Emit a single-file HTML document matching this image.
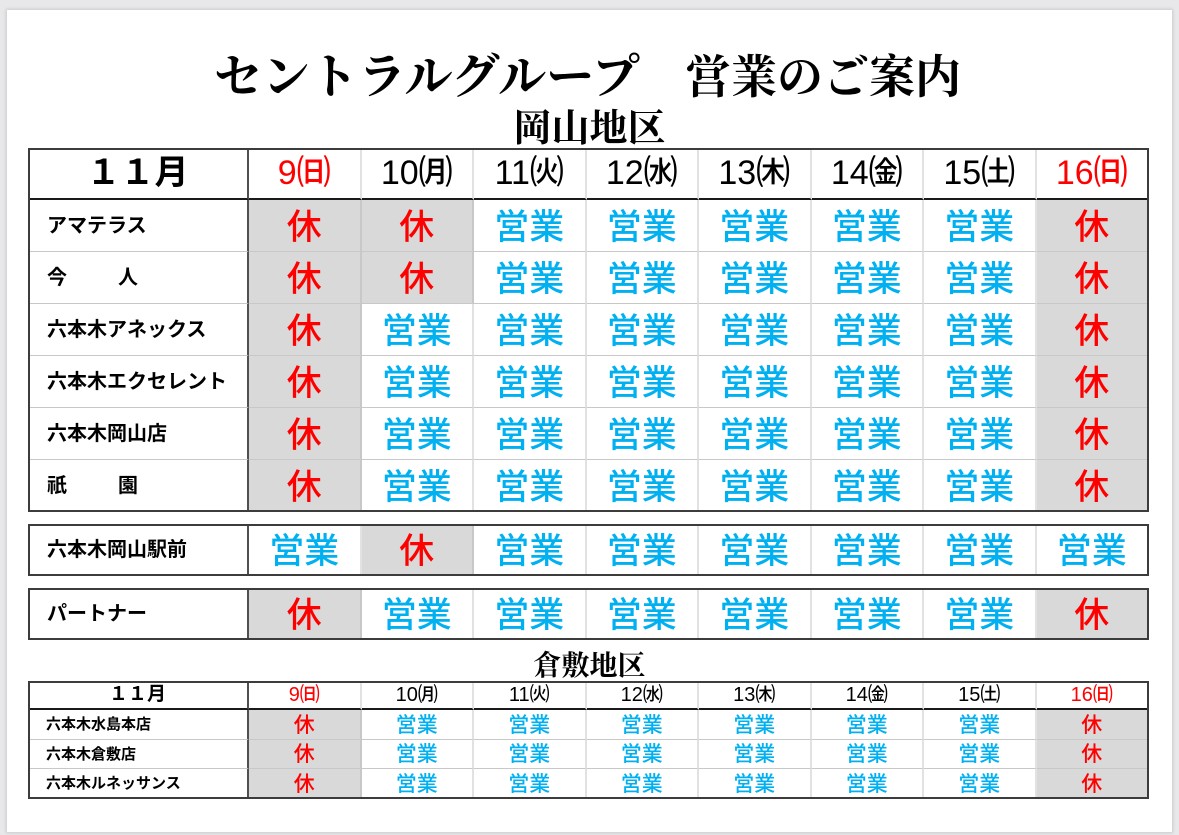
<!DOCTYPE html>
<html><head><meta charset="utf-8">
<style>
*{margin:0;padding:0;box-sizing:border-box}
html,body{width:1179px;height:835px;overflow:hidden;background:#e8e8ea;position:relative}
.page{position:absolute;left:7px;top:10px;width:1165px;height:822px;background:#fff;box-shadow:0 0 3px 1px rgba(0,0,0,0.13)}
.t{position:absolute;font-family:"Liberation Serif","Noto Serif CJK SC",serif;font-weight:700;color:#000;white-space:nowrap;line-height:1}
.g{position:absolute;display:grid;width:1121px;grid-template-columns:221px repeat(8,112.5px);font-family:"Liberation Sans","Noto Sans CJK JP",sans-serif;color:#000}
.g>div{display:flex;align-items:center;justify-content:center;border-right:2px solid #e2e2e2;border-bottom:1px solid #c8c8c8;line-height:1;white-space:nowrap;overflow:hidden}
.g>.l{justify-content:flex-start;padding-left:19px;font-size:20px;font-weight:700;border-right:2px solid #505050}
.g>.m{font-size:34px;font-weight:700;border-right:2px solid #505050;border-bottom:2px solid #1a1a1a}
.g>.d{font-size:34px;font-weight:500;border-bottom:2px solid #1a1a1a}
.g>.r{color:#ff0000}
.g>.k{background:#d9d9d9;color:#ff0000;font-size:35px;font-weight:500;border-right-color:#c8c8c8;padding-top:3px}
.g>.e{color:#00b0f0;font-size:35px;font-weight:500;padding-top:3px}
.s>.l{font-size:15px;padding-left:18px}
.s>.m{font-size:19px}
.s>.d{font-size:20px}
.s>.k,.s>.e{font-size:21px;padding-top:1px}
.b{position:absolute;border:2px solid #3c3c3c}
.sp{display:inline-block;width:51px}
</style></head><body>
<div class="page"></div>

<div class="t" style="left:214px;top:54px;font-size:48px;">セントラルグループ</div>
<div class="t" style="left:685px;top:55px;font-size:46px;">営業のご案内</div>
<div class="t" style="left:0;width:1179px;text-align:center;top:110px;font-size:38px;">岡山地区</div>

<div class="g" style="left:28px;top:148px;grid-template-rows:repeat(7,52px)">
<div class="m">１１月</div>
<div class="d r">9㈰</div><div class="d">10㈪</div><div class="d">11㈫</div><div class="d">12㈬</div><div class="d">13㈭</div><div class="d">14㈮</div><div class="d">15㈯</div><div class="d r">16㈰</div>

<div class="l">アマテラス</div><div class="k">休</div><div class="k">休</div><div class="e">営業</div><div class="e">営業</div><div class="e">営業</div><div class="e">営業</div><div class="e">営業</div><div class="k">休</div>

<div class="l">今<span class="sp"></span>人</div><div class="k">休</div><div class="k">休</div><div class="e">営業</div><div class="e">営業</div><div class="e">営業</div><div class="e">営業</div><div class="e">営業</div><div class="k">休</div>

<div class="l">六本木アネックス</div><div class="k">休</div><div class="e">営業</div><div class="e">営業</div><div class="e">営業</div><div class="e">営業</div><div class="e">営業</div><div class="e">営業</div><div class="k">休</div>

<div class="l">六本木エクセレント</div><div class="k">休</div><div class="e">営業</div><div class="e">営業</div><div class="e">営業</div><div class="e">営業</div><div class="e">営業</div><div class="e">営業</div><div class="k">休</div>

<div class="l">六本木岡山店</div><div class="k">休</div><div class="e">営業</div><div class="e">営業</div><div class="e">営業</div><div class="e">営業</div><div class="e">営業</div><div class="e">営業</div><div class="k">休</div>

<div class="l">祇<span class="sp"></span>園</div><div class="k">休</div><div class="e">営業</div><div class="e">営業</div><div class="e">営業</div><div class="e">営業</div><div class="e">営業</div><div class="e">営業</div><div class="k">休</div>
</div>
<div class="b" style="left:28px;top:148px;width:1121px;height:364px"></div>

<div class="g" style="left:28px;top:524px;grid-template-rows:52px">
<div class="l">六本木岡山駅前</div><div class="e">営業</div><div class="k">休</div><div class="e">営業</div><div class="e">営業</div><div class="e">営業</div><div class="e">営業</div><div class="e">営業</div><div class="e">営業</div>
</div>
<div class="b" style="left:28px;top:524px;width:1121px;height:52px"></div>

<div class="g" style="left:28px;top:588px;grid-template-rows:52px">
<div class="l">パートナー</div><div class="k">休</div><div class="e">営業</div><div class="e">営業</div><div class="e">営業</div><div class="e">営業</div><div class="e">営業</div><div class="e">営業</div><div class="k">休</div>
</div>
<div class="b" style="left:28px;top:588px;width:1121px;height:52px"></div>

<div class="t" style="left:0;width:1179px;text-align:center;top:653px;font-size:28px;">倉敷地区</div>

<div class="g s" style="left:28px;top:681px;grid-template-rows:29px 30px 29px 30px">
<div class="m">１１月</div>
<div class="d r">9㈰</div><div class="d">10㈪</div><div class="d">11㈫</div><div class="d">12㈬</div><div class="d">13㈭</div><div class="d">14㈮</div><div class="d">15㈯</div><div class="d r">16㈰</div>

<div class="l">六本木水島本店</div><div class="k">休</div><div class="e">営業</div><div class="e">営業</div><div class="e">営業</div><div class="e">営業</div><div class="e">営業</div><div class="e">営業</div><div class="k">休</div>

<div class="l">六本木倉敷店</div><div class="k">休</div><div class="e">営業</div><div class="e">営業</div><div class="e">営業</div><div class="e">営業</div><div class="e">営業</div><div class="e">営業</div><div class="k">休</div>

<div class="l">六本木ルネッサンス</div><div class="k">休</div><div class="e">営業</div><div class="e">営業</div><div class="e">営業</div><div class="e">営業</div><div class="e">営業</div><div class="e">営業</div><div class="k">休</div>
</div>
<div class="b" style="left:28px;top:681px;width:1121px;height:118px"></div>

</body></html>
